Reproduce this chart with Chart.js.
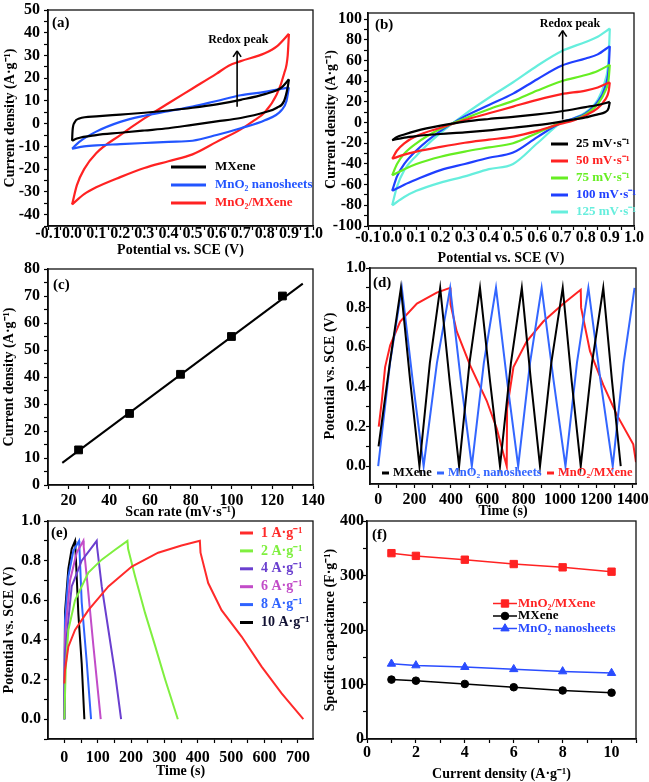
<!DOCTYPE html>
<html>
<head>
<meta charset="utf-8">
<script src="https://cdn.jsdelivr.net/npm/chart.js@4.4.1/dist/chart.umd.min.js"></script>
<style>
  html, body { margin: 0; padding: 0; background: #fff; overflow: hidden; }
  #fig { position: relative; width: 649px; height: 782px; }
  #fig canvas { position: absolute; }
</style>
</head>
<body>
<div id="fig"></div>
<script>
// ---- (a) CV curves at 50 mV/s, upper (anodic) and lower (cathodic) branches
const aMxUpX = [0, 0.002, 0.01, 0.03, 0.1, 0.2, 0.3, 0.4, 0.5, 0.6, 0.7, 0.8, 0.87, 0.9];
const aMxUpY = [-7.5, -3, 0.5, 2.3, 3.2, 4, 4.8, 5.8, 7, 8.5, 10.5, 13, 16, 19.5];
const aMxLoX = [0.9, 0.895, 0.88, 0.85, 0.8, 0.7, 0.6, 0.5, 0.4, 0.3, 0.2, 0.1, 0.02, 0];
const aMxLoY = [19.5, 16, 10, 7, 5, 2.5, 1, -0.5, -2, -3, -4, -5, -6.5, -7.5];

const aMnUpX = [0, 0.03, 0.1, 0.2, 0.3, 0.4, 0.5, 0.6, 0.7, 0.8, 0.9];
const aMnUpY = [-11, -8, -3.5, 0.8, 3.5, 5.5, 7.5, 10, 12.5, 14, 16];
const aMnLoX = [0.9, 0.89, 0.87, 0.8, 0.7, 0.6, 0.5, 0.4, 0.3, 0.2, 0.1, 0.05, 0];
const aMnLoY = [16, 10, 6, 1.5, -2, -5, -7.5, -8, -8.5, -9, -9.5, -10, -11];

const aCoUpX = [0, 0.02, 0.05, 0.1, 0.2, 0.3, 0.4, 0.5, 0.6, 0.65, 0.7, 0.8, 0.85, 0.9];
const aCoUpY = [-35.5, -27, -20, -13, -5, 2.3, 9, 15.5, 22, 25.5, 27.5, 31, 34, 39.5];
const aCoLoX = [0.9, 0.895, 0.88, 0.85, 0.8, 0.75, 0.7, 0.6, 0.5, 0.4, 0.3, 0.2, 0.1, 0.05, 0];
const aCoLoY = [39.5, 30, 22, 13, 5, 1, -2.5, -8, -13.5, -16.5, -19.5, -23.5, -28, -31, -35.5];

// ---- (b) MnO2/MXene at different scan rates
const bUpX = [0, 0.02, 0.05, 0.1, 0.2, 0.3, 0.4, 0.5, 0.6, 0.7, 0.8, 0.85, 0.9];
const bLoX = [0.9, 0.895, 0.88, 0.85, 0.8, 0.75, 0.7, 0.6, 0.5, 0.4, 0.3, 0.2, 0.1, 0.05, 0];
const b25Up = [-17, -14, -11.5, -8, -3, 1, 3.5, 5.5, 8, 11, 15, 17, 20];
const b25Lo = [20, 14, 10, 8, 5, 3, 1, -2.5, -5, -7.5, -9.5, -11, -13, -14.5, -17];
const b50Up = [-35, -27, -20, -13, -5, 2.5, 9, 15.5, 22, 27.5, 31, 34, 39];
const b50Lo = [39, 30, 22, 14, 7, 2, -1, -8, -13.5, -16.5, -19.5, -23.5, -28, -31, -35];
const b75Up = [-51, -40, -30, -20, -6, 4, 13, 21, 31, 40, 46, 50, 56];
const b75Lo = [56, 42, 30, 18, 8, 3, 0, -10, -20, -24, -28, -33, -40, -45, -51];
const b100Up = [-66, -52, -40, -27, -8, 6, 17, 28, 42, 55, 62, 66, 74];
const b100Lo = [74, 52, 34, 20, 9, 4, 0, -14, -29, -34, -40, -46, -55, -60, -66];
const b125Up = [-80, -62, -46, -32, -10, 8, 24, 39, 55, 69, 78, 83, 91];
const b125Lo = [91, 62, 40, 22, 10, 4, 0, -20, -40, -45, -52, -58, -66, -72, -80];
const bRates = ['25 mV·s⁻¹', '50 mV·s⁻¹', '75 mV·s⁻¹', '100 mV·s⁻¹', '125 mV·s⁻¹'];

// ---- (c) peak current vs scan rate
const scanRate = [25, 50, 75, 100, 125];
const peakCurrent = [13, 26.5, 41, 55, 70];
const fitX = [17, 135];
const fitY = [8.2, 74.6];

// ---- (d) GCD cycles at 1 A/g
const dMxT = [2, 64, 125, 176, 227, 284, 341, 393, 445, 502, 560, 615, 670, 730, 790, 840, 890, 952, 1015, 1064, 1114, 1176, 1238, 1286, 1334];
const dMxV = [0.1, 0.52, 0.9, 0.43, 0, 0.52, 0.9, 0.43, 0, 0.52, 0.9, 0.43, 0, 0.52, 0.9, 0.43, 0, 0.52, 0.9, 0.43, 0, 0.52, 0.9, 0.43, 0];
const dMnT = [0, 65, 130, 190, 250, 323, 396, 455, 515, 581, 648, 709, 770, 835, 899, 965, 1030, 1093, 1156, 1223, 1290, 1350, 1410];
const dMnV = [0, 0.52, 0.9, 0.43, 0, 0.52, 0.9, 0.43, 0, 0.52, 0.9, 0.43, 0, 0.52, 0.9, 0.43, 0, 0.52, 0.9, 0.43, 0, 0.52, 0.9];
const dCoT = [3, 20, 38, 66, 121, 213, 322, 396, 398, 432, 505, 597, 652, 707, 709, 744, 817, 908, 1018, 1114, 1116, 1165, 1238, 1312, 1403, 1418];
const dCoV = [0.2, 0.33, 0.5, 0.61, 0.73, 0.82, 0.876, 0.9, 0.817, 0.68, 0.51, 0.33, 0.19, 0, 0.29, 0.5, 0.63, 0.73, 0.82, 0.89, 0.8, 0.58, 0.41, 0.26, 0.11, 0.02];

// ---- (e) GCD of MnO2/MXene at different current densities
const e1T = [0, 2, 12, 32, 72, 132, 202, 281, 351, 406, 408, 431, 471, 531, 591, 651, 716];
const e1V = [0.18, 0.25, 0.366, 0.45, 0.55, 0.67, 0.77, 0.84, 0.876, 0.9, 0.84, 0.687, 0.55, 0.417, 0.265, 0.13, 0];
const e2T = [0, 4, 12, 32, 72, 112, 152, 189, 191, 212, 242, 272, 302, 340];
const e2V = [0, 0.25, 0.45, 0.6, 0.74, 0.805, 0.855, 0.9, 0.86, 0.72, 0.535, 0.37, 0.2, 0];
const e4T = [0, 2, 22, 52, 97, 98, 112, 132, 152, 170];
const e4V = [0, 0.33, 0.67, 0.8, 0.9, 0.87, 0.67, 0.45, 0.23, 0];
const e6T = [0, 2, 17, 37, 57, 58, 70, 87, 109];
const e6V = [0, 0.42, 0.7, 0.84, 0.9, 0.87, 0.67, 0.37, 0];
const e8T = [0, 2, 12, 27, 44, 45, 52, 67, 80];
const e8V = [0, 0.5, 0.72, 0.85, 0.9, 0.87, 0.59, 0.29, 0];
const e10T = [0, 2, 12, 22, 32, 33, 42, 52, 60];
const e10V = [0, 0.54, 0.76, 0.86, 0.9, 0.87, 0.53, 0.28, 0];
const eRates = ['1 A·g⁻¹', '2 A·g⁻¹', '4 A·g⁻¹', '6 A·g⁻¹', '8 A·g⁻¹', '10 A·g⁻¹'];

// ---- (f) specific capacitance vs current density
const fCurrent = [1, 2, 4, 6, 8, 10];
const fComposite = [341, 336, 329, 321, 315, 307];
const fMxene = [109, 107, 101, 95, 89, 85];
const fMnO2 = [138, 135, 132, 128, 124, 121];

// redox arrows: [x, from y, to y], label position [x, y]
const redoxA = [0.685, 7.5, 32];
const redoxALabel = [0.69, 37];
const redoxB = [0.705, 3, 89];
const redoxBLabel = [0.735, 95];

const SERIF = "'Liberation Serif', 'Times New Roman', serif";
const TICK_SIZE = 16;
const TITLE_SIZE = 14;
const RED = '#ff2222', BLUE = '#2255ff';

function xy(xs, ys) {
  return xs.map((x, i) => ({ x: x, y: ys[i] }));
}
function curve(points, color, width) {
  return {
    data: points, showLine: true, borderColor: color, backgroundColor: color,
    borderWidth: width || 2, pointRadius: 0, tension: 0, fill: false
  };
}
// one sweep direction of a CV loop: smooth, x is monotone inside a branch
function branch(xs, ys, color) {
  const d = curve(xy(xs, ys), color, 2.2);
  d.cubicInterpolationMode = 'monotone';
  return d;
}
function isMajor(v, major) {
  const r = v / major;
  return Math.abs(r - Math.round(r)) < 1e-6;
}
function zeroPad(sc) {
  sc.paddingLeft = 0; sc.paddingRight = 0; sc.paddingTop = 0; sc.paddingBottom = 0;
}

// build one axis so that chart area, labels and titles land where the figure has them
function axis(spec, horizontal, box, area) {
  const tl = 4;
  const lh = TICK_SIZE * 1.2, th = TITLE_SIZE * 1.2;
  const s = {
    type: 'linear', min: spec.min, max: spec.max,
    border: { display: true, color: '#000', width: 1.6 },
    grid: { display: true, drawOnChartArea: false, drawTicks: true, tickLength: tl, tickWidth: 1.2, tickColor: '#000' },
    ticks: {
      stepSize: spec.step, autoSkip: false, maxRotation: 0, minRotation: 0, includeBounds: false,
      color: '#000', font: { family: SERIF, size: TICK_SIZE, weight: 'bold' },
      callback: v => isMajor(v, spec.major) ? v.toFixed(spec.dp) : ''
    },
    title: { display: true, text: spec.title, color: '#000', font: { family: SERIF, size: TITLE_SIZE, weight: 'bold' } }
  };
  if (horizontal) {
    const h = box[1] + box[3] - area[3];
    s.ticks.padding = spec.labelAt - area[3] - tl - lh / 2;
    s.title.padding = { top: 0, bottom: box[1] + box[3] - spec.titleAt - th / 2 };
    s.afterFit = sc => { sc.height = h; zeroPad(sc); };
  } else {
    const w = area[0] - box[0];
    s.ticks.padding = area[0] - tl - spec.labelAt;
    s.title.padding = { top: spec.titleAt - box[0] - th / 2, bottom: 0 };
    s.afterFit = sc => { sc.width = w; zeroPad(sc); };
  }
  return s;
}

function text(ctx, str, x, y, color, size, align) {
  ctx.save();
  ctx.font = 'bold ' + size + 'px ' + SERIF;
  ctx.fillStyle = color;
  ctx.textAlign = align || 'left';
  ctx.textBaseline = 'middle';
  ctx.fillText(str, x, y);
  ctx.restore();
}
function seg(ctx, x0, y0, x1, y1, color, width) {
  ctx.save();
  ctx.strokeStyle = color; ctx.lineWidth = width;
  ctx.beginPath(); ctx.moveTo(x0, y0); ctx.lineTo(x1, y1); ctx.stroke();
  ctx.restore();
}
function frame(chart) {
  const a = chart.chartArea, ctx = chart.ctx;
  ctx.save();
  ctx.strokeStyle = '#111'; ctx.lineWidth = 1.3;
  ctx.strokeRect(a.left, a.top, a.right - a.left, a.bottom - a.top);
  ctx.restore();
}
function arrow(chart, a, lab) {
  const sx = chart.scales.x, sy = chart.scales.y, ctx = chart.ctx;
  const x = sx.getPixelForValue(a[0]);
  const y0 = sy.getPixelForValue(a[1]), y1 = sy.getPixelForValue(a[2]);
  seg(ctx, x, y0, x, y1, '#000', 1.6);
  seg(ctx, x - 4, y1 + 6, x, y1, '#000', 1.6);
  seg(ctx, x + 4, y1 + 6, x, y1, '#000', 1.6);
  text(ctx, 'Redox peak', sx.getPixelForValue(lab[0]), sy.getPixelForValue(lab[1]), '#000', 12, 'center');
}

function panel(box, area, xs, ys, datasets, draw) {
  const c = document.createElement('canvas');
  c.width = box[2]; c.height = box[3];
  c.style.left = box[0] + 'px'; c.style.top = box[1] + 'px';
  c.style.width = box[2] + 'px'; c.style.height = box[3] + 'px';
  document.getElementById('fig').appendChild(c);
  new Chart(c, {
    type: 'scatter',
    data: { datasets: datasets },
    options: {
      responsive: false, animation: false, events: [],
      layout: { padding: { left: 0, top: area[1] - box[1], right: box[0] + box[2] - area[2], bottom: 0 } },
      plugins: { legend: { display: false }, tooltip: { enabled: false } },
      scales: { x: axis(xs, true, box, area), y: axis(ys, false, box, area) }
    },
    plugins: [{
      id: 'decor',
      afterDatasetsDraw(chart) {
        frame(chart);
        // page coordinates -> canvas coordinates
        const P = (x, y) => [x - box[0], y - box[1]];
        draw(chart, chart.ctx, P);
      }
    }]
  });
}

const potTitle = 'Potential vs. SCE (V)';
const cdTitle = 'Current density (A·g⁻¹)';

// (a)
panel([0, 0, 325, 264], [48, 10, 313, 226],
  { min: -0.1, max: 1.0, step: 0.05, major: 0.1, dp: 1, title: potTitle, labelAt: 234, titleAt: 250 },
  { min: -45, max: 50, step: 5, major: 10, dp: 0, title: cdTitle, labelAt: 40, titleAt: 10 },
  [
    branch(aMxUpX, aMxUpY, '#000'), branch(aMxLoX, aMxLoY, '#000'),
    branch(aMnUpX, aMnUpY, BLUE), branch(aMnLoX, aMnLoY, BLUE),
    branch(aCoUpX, aCoUpY, RED), branch(aCoLoX, aCoLoY, RED)
  ],
  (chart, ctx, P) => {
    let p = P(52, 23); text(ctx, '(a)', p[0], p[1], '#000', 15);
    arrow(chart, redoxA, redoxALabel);
    const names = ['MXene', 'MnO₂ nanosheets', 'MnO₂/MXene'];
    const cols = ['#000', BLUE, RED];
    names.forEach((n, i) => {
      const y = 167 + 18 * i;
      const a = P(171, y), b = P(206, y), t = P(215, y);
      seg(ctx, a[0], a[1], b[0], b[1], cols[i], 3);
      text(ctx, n, t[0], t[1], cols[i], 13);
    });
  });

// (b)
const bColors = ['#000', RED, '#66ee22', '#1f3fff', '#66eedd'];
const bUps = [b25Up, b50Up, b75Up, b100Up, b125Up];
const bLos = [b25Lo, b50Lo, b75Lo, b100Lo, b125Lo];
const bSets = [];
bUps.forEach((u, i) => {
  bSets.push(branch(bUpX, u, bColors[i]));
  bSets.push(branch(bLoX, bLos[i], bColors[i]));
});
panel([320, 0, 329, 268], [368, 13, 634, 226],
  { min: -0.1, max: 1.0, step: 0.05, major: 0.1, dp: 1, title: potTitle, labelAt: 238, titleAt: 258 },
  { min: -100, max: 106, step: 10, major: 20, dp: 0, title: cdTitle, labelAt: 362, titleAt: 331 },
  bSets,
  (chart, ctx, P) => {
    let p = P(375, 25); text(ctx, '(b)', p[0], p[1], '#000', 15);
    arrow(chart, redoxB, redoxBLabel);
    bRates.forEach((n, i) => {
      const y = 144 + 17 * i;
      const a = P(551, y), b = P(568, y), t = P(576, y);
      seg(ctx, a[0], a[1], b[0], b[1], bColors[i], 3);
      text(ctx, n, t[0], t[1], bColors[i], 13);
    });
  });

// (c)
panel([0, 258, 325, 264], [48, 269, 313, 485],
  { min: 10, max: 140, step: 10, major: 20, dp: 0, title: 'Scan rate (mV·s⁻¹)', labelAt: 501, titleAt: 512 },
  { min: 0, max: 80, step: 5, major: 10, dp: 0, title: cdTitle, labelAt: 40, titleAt: 9 },
  [
    curve(xy(fitX, fitY), '#000', 2),
    { data: xy(scanRate, peakCurrent), showLine: false, pointStyle: 'rect', pointRadius: 5.5,
      backgroundColor: '#000', borderColor: '#000', borderWidth: 1 }
  ],
  (chart, ctx, P) => {
    let p = P(53, 285); text(ctx, '(c)', p[0], p[1], '#000', 15);
  });

// (d)
panel([320, 258, 329, 264], [370, 268, 636, 484],
  { min: -45, max: 1418, step: 100, major: 200, dp: 0, title: 'Time (s)', labelAt: 500, titleAt: 511 },
  { min: -0.09, max: 1.0, step: 0.1, major: 0.2, dp: 1, title: potTitle, labelAt: 366, titleAt: 330 },
  [
    curve(xy(dMxT, dMxV), '#000'),
    curve(xy(dMnT, dMnV), '#3366ff'),
    curve(xy(dCoT, dCoV), RED)
  ],
  (chart, ctx, P) => {
    let p = P(373, 283); text(ctx, '(d)', p[0], p[1], '#000', 15);
    const items = [['MXene', '#000', 382, 393], ['MnO₂ nanosheets', '#3366ff', 437, 448], ['MnO₂/MXene', RED, 547, 558]];
    items.forEach(it => {
      const a = P(it[2], 473), b = P(it[2] + 7, 473), t = P(it[3], 473);
      seg(ctx, a[0], a[1], b[0], b[1], it[1], 3);
      text(ctx, it[0], t[0], t[1], it[1], 12.5);
    });
  });

// (e)
const eColors = ['#ff2a2a', '#7fef3f', '#6a3fcf', '#c24cc8', '#2f63ff', '#000'];
const eTextColors = ['#ff2a2a', '#7fef3f', '#6a3fcf', '#c24cc8', '#2f63ff', '#111133'];
const eTs = [e1T, e2T, e4T, e6T, e8T, e10T];
const eVs = [e1V, e2V, e4V, e6V, e8V, e10V];
panel([0, 510, 325, 272], [48, 521, 313, 739],
  { min: -49, max: 745, step: 50, major: 100, dp: 0, title: 'Time (s)', labelAt: 758, titleAt: 771 },
  { min: -0.1, max: 1.0, step: 0.1, major: 0.2, dp: 1, title: potTitle, labelAt: 41, titleAt: 9 },
  eTs.map((t, i) => curve(xy(t, eVs[i]), eColors[i])),
  (chart, ctx, P) => {
    let p = P(51, 533); text(ctx, '(e)', p[0], p[1], '#000', 15);
    eRates.forEach((n, i) => {
      const y = 533 + 17.9 * i;
      const a = P(240, y), b = P(253, y), t = P(261, y);
      seg(ctx, a[0], a[1], b[0], b[1], eColors[i], 3);
      text(ctx, n, t[0], t[1], eTextColors[i], 14);
    });
  });

// (f)
const fSeries = [
  { name: 'MnO₂/MXene', data: fComposite, color: RED, style: 'rect', r: 5.2 },
  { name: 'MXene', data: fMxene, color: '#000', style: 'circle', r: 3.8 },
  { name: 'MnO₂ nanosheets', data: fMnO2, color: '#2a4cff', style: 'triangle', r: 4.8 }
];
panel([320, 510, 329, 272], [367, 521, 636, 739],
  { min: 0, max: 11, step: 1, major: 2, dp: 0, title: cdTitle, labelAt: 753, titleAt: 774 },
  { min: 0, max: 400, step: 50, major: 100, dp: 0, title: 'Specific capacitance (F·g⁻¹)', labelAt: 364, titleAt: 330 },
  fSeries.map(s => ({
    data: xy(fCurrent, s.data), showLine: true, borderColor: s.color, backgroundColor: s.color,
    borderWidth: 1.5, pointStyle: s.style, pointRadius: s.r, pointBorderWidth: 1, tension: 0
  })),
  (chart, ctx, P) => {
    let p = P(372, 535); text(ctx, '(f)', p[0], p[1], '#000', 15);
    fSeries.forEach((s, i) => {
      const y = 603.5 + 12.5 * i;
      const a = P(493, y), b = P(517, y), m = P(505, y), t = P(518, y);
      seg(ctx, a[0], a[1], b[0], b[1], s.color, 1.5);
      ctx.save();
      ctx.fillStyle = s.color; ctx.strokeStyle = s.color;
      Chart.helpers.drawPoint(ctx, { pointStyle: s.style, radius: s.r, rotation: 0, borderWidth: 1 }, m[0], m[1]);
      ctx.restore();
      text(ctx, s.name, t[0], t[1], s.color, 13);
    });
  });
</script>
</body>
</html>
